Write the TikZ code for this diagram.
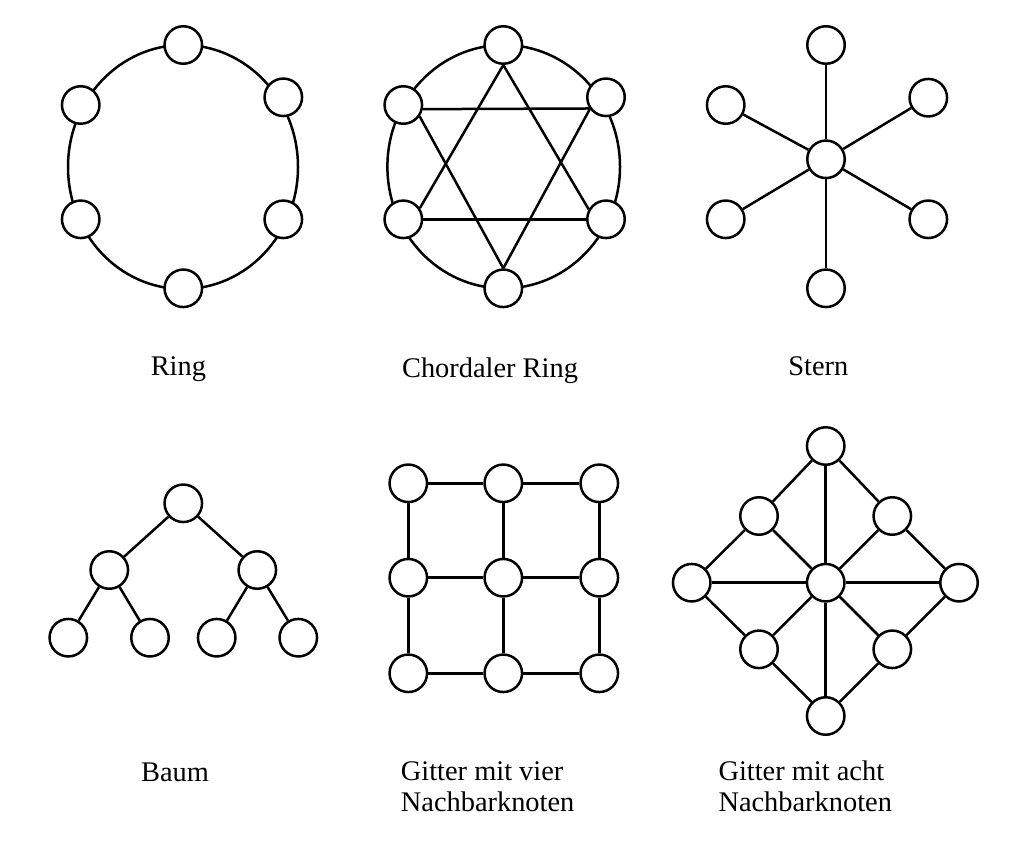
\documentclass[tikz,border=0pt]{standalone}
\usepackage{fontspec}
\setmainfont{Liberation Serif}
\begin{document}
\begin{tikzpicture}[x=1pt,y=-1pt,
  knot/.style={circle,draw,fill=white,line width=2.5pt,minimum size=37.5pt,inner sep=0pt},
  edge/.style={line width=2.5pt},
  lbl/.style={inner sep=0pt,font=\fontsize{28.4}{31.7}\selectfont}]
\useasboundingbox (0,0) rectangle (1032,840);
% Ring
\draw[edge] (183,167) ellipse [x radius=115, y radius=122];
\node[knot] (r1) at (183.3,45) {};
\node[knot] (r2) at (80.7,105) {};
\node[knot] (r3) at (283.3,97.3) {};
\node[knot] (r4) at (80.7,219.3) {};
\node[knot] (r5) at (283.3,219.3) {};
\node[knot] (r6) at (183.3,288.3) {};
\node[lbl,anchor=base] (tring) at (178.4,375) {Ring};
% Chordaler Ring
\draw[edge] (503.7,166.7) ellipse [x radius=116.3, y radius=121.7];
\node[knot] (c1) at (503.3,45) {};
\node[knot] (c2) at (403.3,105) {};
\node[knot] (c3) at (606,97.3) {};
\node[knot] (c4) at (403.3,219.3) {};
\node[knot] (c5) at (606,219.3) {};
\node[knot] (c6) at (503.3,288.3) {};
\draw[edge] (c1.south) -- (c4.34);
\draw[edge] (c1.south) -- (c5.150);
\draw[edge] (c4) -- (c5);
\draw[edge] (c6.north) -- (c2.-35);
\draw[edge] (c6.north) -- (c3.216);
\draw[edge] (c2.-12) -- (c3.214);
\node[lbl,anchor=base] (tchord) at (490,377) {Chordaler Ring};
% Stern
\node[knot] (s0) at (826,159.3) {};
\node[knot] (s1) at (826,45) {};
\node[knot] (s2) at (725.7,105) {};
\node[knot] (s3) at (928.3,97.7) {};
\node[knot] (s4) at (725.7,219.3) {};
\node[knot] (s5) at (928.3,219.3) {};
\node[knot] (s6) at (826,288.3) {};
\foreach \n in {s1,s2,s3,s4,s5,s6} \draw[edge] (s0) -- (\n);
\node[lbl,anchor=base] (tstern) at (818.3,375) {Stern};
% Baum
\node[knot] (b0) at (183.3,503.3) {};
\node[knot] (b1) at (109.3,570) {};
\node[knot] (b2) at (257.3,570) {};
\node[knot] (b3) at (68.3,637.7) {};
\node[knot] (b4) at (150,637.7) {};
\node[knot] (b5) at (216.7,637.7) {};
\node[knot] (b6) at (298.3,637.7) {};
\draw[edge] (b0) -- (b1) (b0) -- (b2) (b1) -- (b3) (b1) -- (b4) (b2) -- (b5) (b2) -- (b6);
\node[lbl,anchor=base] (tbaum) at (175,781.7) {Baum};
% Gitter mit vier Nachbarknoten
\foreach \x/\i in {408.3/1,503.3/2,599.3/3}
  \foreach \y/\j in {483.3/1,577.7/2,673.3/3}
    \node[knot] (g\i\j) at (\x,\y) {};
\foreach \j in {1,2,3} \draw[edge] (g1\j) -- (g2\j) (g2\j) -- (g3\j);
\foreach \i in {1,2,3} \draw[edge] (g\i1) -- (g\i2) (g\i2) -- (g\i3);
\node[lbl,anchor=base west,align=left] (tvier) at (400.7,811.7) {Gitter mit vier\\Nachbarknoten};
% Gitter mit acht Nachbarknoten
\node[knot] (h1) at (825.7,446) {};
\node[knot] (h2) at (759,516) {};
\node[knot] (h3) at (892.3,516) {};
\node[knot] (h4) at (691.7,582.7) {};
\node[knot] (h5) at (825.7,582.7) {};
\node[knot] (h6) at (959,582.7) {};
\node[knot] (h7) at (759,649.3) {};
\node[knot] (h8) at (892.3,649.3) {};
\node[knot] (h9) at (825.7,716) {};
\draw[edge] (h1) -- (h2) (h1) -- (h3) (h2) -- (h4) (h3) -- (h6)
  (h4) -- (h7) (h6) -- (h8) (h7) -- (h9) (h8) -- (h9);
\foreach \n in {h1,h2,h3,h4,h6,h7,h8,h9} \draw[edge] (h5) -- (\n);
\node[lbl,anchor=base west,align=left] (tacht) at (718.3,811.7) {Gitter mit acht\\Nachbarknoten};
\end{tikzpicture}
\end{document}
